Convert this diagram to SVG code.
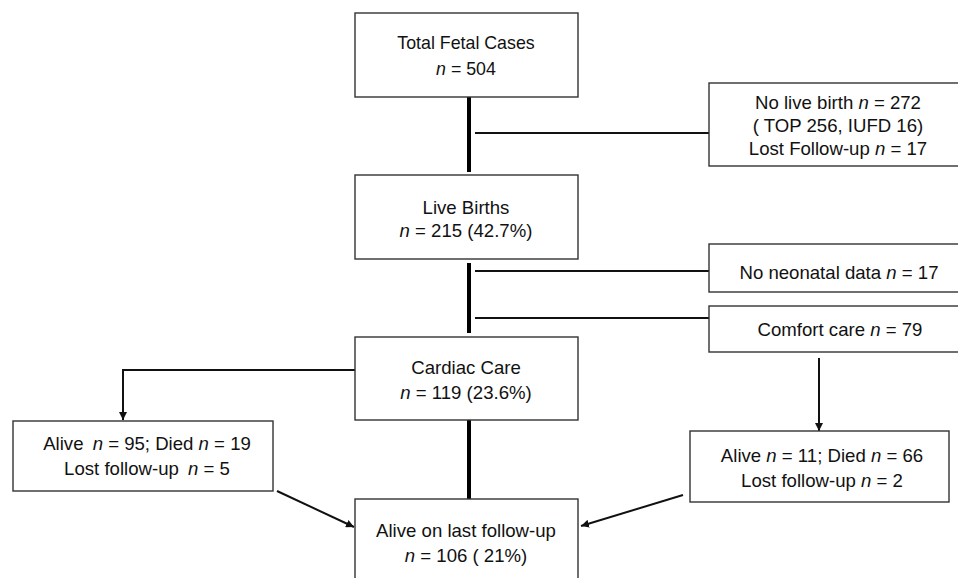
<svg xmlns="http://www.w3.org/2000/svg" width="958" height="578" viewBox="0 0 958 578">
<style>
.box{fill:#fff;stroke:#333;stroke-width:1.4}
text{font-family:"Liberation Sans",Arial,sans-serif;font-size:18.6px;fill:#111;text-anchor:middle}
.sm{font-size:17.8px}
.i{font-style:italic}
.thick{stroke:#000;stroke-width:4;fill:none}
.thin{stroke:#111;stroke-width:2;fill:none}
</style>
<defs>
<marker id="ah" viewBox="0 0 10 10" refX="10" refY="5" markerWidth="8" markerHeight="8" markerUnits="userSpaceOnUse" orient="auto">
<path d="M0,0 L10,5 L0,10 z" fill="#111"/>
</marker>
</defs>
<rect width="958" height="578" fill="#fff"/>
<g id="connectors">
<line class="thick" x1="469" y1="97" x2="469" y2="172"/>
<line class="thin" x1="475" y1="133" x2="709" y2="133"/>
<line class="thick" x1="469" y1="263" x2="469" y2="333"/>
<line class="thin" x1="475" y1="271" x2="709" y2="271"/>
<line class="thin" x1="475" y1="318" x2="709" y2="318"/>
<line class="thick" x1="469" y1="420" x2="469" y2="499"/>
<polyline class="thin" points="355,370 123,370 123,420" marker-end="url(#ah)"/>
<line class="thin" x1="819" y1="358" x2="819" y2="431" marker-end="url(#ah)"/>
<line class="thin" x1="277" y1="491" x2="354" y2="527" marker-end="url(#ah)"/>
<line class="thin" x1="683" y1="495" x2="581" y2="526" marker-end="url(#ah)"/>
</g>
<g id="total">
<rect class="box" x="355" y="13" width="223" height="84"/>
<text class="sm" x="466" y="49">Total Fetal Cases</text>
<text class="sm" x="466" y="75"><tspan class="i">n</tspan> = 504</text>
</g>
<g id="nolive">
<rect class="box" x="709" y="83" width="262" height="83"/>
<text x="838" y="109">No live birth <tspan class="i">n</tspan> = 272</text>
<text x="838" y="132">( TOP 256, IUFD 16)</text>
<text x="838" y="155">Lost Follow-up <tspan class="i">n</tspan> = 17</text>
</g>
<g id="livebirths">
<rect class="box" x="355" y="175" width="223" height="84"/>
<text x="466" y="214">Live Births</text>
<text x="466" y="237"><tspan class="i">n</tspan> = 215 (42.7%)</text>
</g>
<g id="noneonatal">
<rect class="box" x="709" y="244" width="262" height="48"/>
<text x="839" y="279">No neonatal data <tspan class="i">n</tspan> = 17</text>
</g>
<g id="comfort">
<rect class="box" x="709" y="306" width="262" height="46"/>
<text x="840" y="336">Comfort care <tspan class="i">n</tspan> = 79</text>
</g>
<g id="cardiac">
<rect class="box" x="355" y="337" width="223" height="83"/>
<text x="466" y="374">Cardiac Care</text>
<text x="466" y="399"><tspan class="i">n</tspan> = 119 (23.6%)</text>
</g>
<g id="leftout">
<rect class="box" x="13" y="421" width="260" height="70"/>
<text x="147" y="450">Alive <tspan class="i" dx="4">n</tspan> = 95; Died <tspan class="i">n</tspan> = 19</text>
<text x="147" y="475">Lost follow-up <tspan class="i" dx="4">n</tspan> = 5</text>
</g>
<g id="rightout">
<rect class="box" x="690" y="431" width="259" height="71"/>
<text x="822" y="462">Alive <tspan class="i">n</tspan> = 11; Died <tspan class="i">n</tspan> = 66</text>
<text x="822" y="487">Lost follow-up <tspan class="i">n</tspan> = 2</text>
</g>
<g id="alive">
<rect class="box" x="355" y="499" width="223" height="90"/>
<text x="466" y="537">Alive on last follow-up</text>
<text x="466" y="562"><tspan class="i">n</tspan> = 106 ( 21%)</text>
</g>
</svg>
